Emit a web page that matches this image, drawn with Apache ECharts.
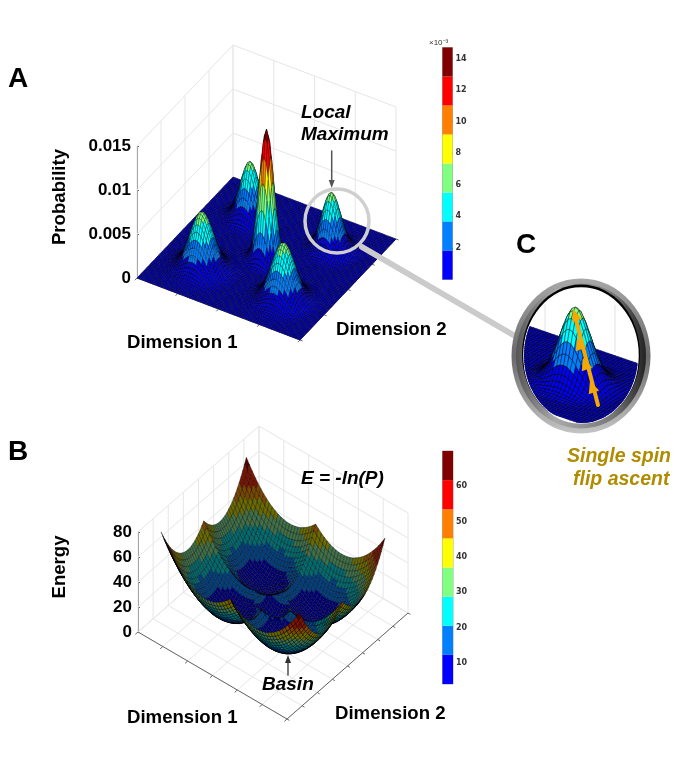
<!DOCTYPE html>
<html><head><meta charset="utf-8"><style>html,body{margin:0;padding:0;background:#fff}#c{width:678px;height:764px}</style>
<script src="https://cdn.jsdelivr.net/npm/echarts@6/dist/echarts.min.js"></script></head>
<body><div id="c"></div>
<script>
// ---------- values ----------
// Panel A: probability x 1e3. Mesh has 81 x 81 nodes. Peaks given as quadrant tables (offset from peak centre in mesh steps).
const backPeakQuadrant = [
 [6.40,6.20,5.65,4.83,3.88,2.93,2.08,1.38,.87,.51,.28,.15,.07],
 [6.20,6.01,5.48,4.68,3.76,2.84,2.02,1.34,.84,.49,.27,.14,.07],
 [5.65,5.48,4.98,4.26,3.42,2.58,1.84,1.22,.76,.45,.25,.13,.06],
 [4.83,4.68,4.26,3.65,2.93,2.21,1.57,1.04,.65,.38,.21,.11,.05],
 [3.88,3.76,3.42,2.93,2.35,1.78,1.26,.84,.53,.31,.17,.09,.04],
 [2.93,2.84,2.58,2.21,1.78,1.34,.95,.63,.40,.23,.13,.07,.03],
 [2.08,2.02,1.84,1.57,1.26,.95,.68,.45,.28,.17,.09,.05,.02],
 [1.38,1.34,1.22,1.04,.84,.63,.45,.30,.19,.11,.06,.03,.02],
 [.87,.84,.76,.65,.53,.40,.28,.19,.12,.07,.04,.02,.01],
 [.51,.49,.45,.38,.31,.23,.17,.11,.07,.04,.02,.01,.01],
 [.28,.27,.25,.21,.17,.13,.09,.06,.04,.02,.01,.01,0],
 [.15,.14,.13,.11,.09,.07,.05,.03,.02,.01,.01,0,0],
 [.07,.07,.06,.05,.04,.03,.02,.02,.01,.01,0,0,0]];
const frontPeakQuadrant = [
 [6.40,6.27,5.91,5.34,4.65,3.88,3.12,2.40,1.78,1.27,.87,.57,.36,.22,.13,.07,.04],
 [6.27,6.15,5.79,5.23,4.56,3.80,3.06,2.35,1.74,1.24,.85,.56,.35,.22,.13,.07,.04],
 [5.91,5.79,5.45,4.93,4.29,3.58,2.88,2.22,1.64,1.17,.80,.53,.33,.20,.12,.06,.04],
 [5.34,5.23,4.93,4.46,3.88,3.24,2.61,2.00,1.49,1.06,.73,.48,.30,.18,.11,.06,.03],
 [4.65,4.56,4.29,3.88,3.37,2.82,2.27,1.74,1.29,.92,.63,.41,.26,.16,.09,.05,.03],
 [3.88,3.80,3.58,3.24,2.82,2.36,1.89,1.46,1.08,.77,.53,.35,.22,.13,.08,.04,.02],
 [3.12,3.06,2.88,2.61,2.27,1.89,1.52,1.17,.87,.62,.42,.28,.18,.11,.06,.03,.02],
 [2.40,2.35,2.22,2.00,1.74,1.46,1.17,.90,.67,.48,.33,.21,.14,.08,.05,.03,.02],
 [1.78,1.74,1.64,1.49,1.29,1.08,.87,.67,.49,.35,.24,.16,.10,.06,.04,.02,.01],
 [1.27,1.24,1.17,1.06,.92,.77,.62,.48,.35,.25,.17,.11,.07,.04,.03,.01,.01],
 [.87,.85,.80,.73,.63,.53,.42,.33,.24,.17,.12,.08,.05,.03,.02,.01,.01],
 [.57,.56,.53,.48,.41,.35,.28,.21,.16,.11,.08,.05,.03,.02,.01,.01,0],
 [.36,.35,.33,.30,.26,.22,.18,.14,.10,.07,.05,.03,.02,.01,.01,0,0],
 [.22,.22,.20,.18,.16,.13,.11,.08,.06,.04,.03,.02,.01,.01,0,0,0],
 [.13,.13,.12,.11,.09,.08,.06,.05,.04,.03,.02,.01,.01,0,0,0,0],
 [.07,.07,.06,.06,.05,.04,.03,.03,.02,.01,.01,.01,0,0,0,0,0],
 [.04,.04,.04,.03,.03,.02,.02,.02,.01,.01,.01,0,0,0,0,0,0]];
const tallPeakQuadrant = [
 [14.7,13.91,11.77,8.92,6.04,3.66,1.98,.97,.43,.16,.06,.01,0],
 [13.91,13.16,11.13,8.44,5.71,3.46,1.87,.92,.41,.15,.06,.01,0],
 [11.77,11.13,9.43,7.14,4.84,2.93,1.59,.78,.34,.13,.05,.01,0],
 [8.92,8.44,7.14,5.41,3.67,2.22,1.20,.59,.26,.10,.04,.01,0],
 [6.04,5.71,4.84,3.67,2.48,1.50,.81,.40,.18,.07,.02,0,0],
 [3.66,3.46,2.93,2.22,1.50,.91,.49,.24,.11,.04,.01,0,0],
 [1.98,1.87,1.59,1.20,.81,.49,.27,.13,.06,.02,.01,0,0],
 [.97,.92,.78,.59,.40,.24,.13,.06,.03,.01,0,0,0],
 [.43,.41,.34,.26,.18,.11,.06,.03,.01,0,0,0,0],
 [.16,.15,.13,.10,.07,.04,.02,.01,0,0,0,0,0],
 [.06,.06,.05,.04,.02,.01,.01,0,0,0,0,0,0],
 [.01,.01,.01,.01,0,0,0,0,0,0,0,0,0],
 [0,0,0,0,0,0,0,0,0,0,0,0,0]];
const backPeakDim1 = [20,60];
const backPeakDim2 = [60,60];
const frontPeakDim1 = [20,60];
const frontPeakDim2 = [20,20];
const tallPeakDim1 = [40];
const tallPeakDim2 = [40];
// Panel B: energy, one quadrant of a 49 x 49 mesh (the four quadrants read alike).
const energyQuadrant = [
 [70,65.7,61.8,58.1,54.8,51.7,48.9,46.4,44.2,42.3,40.7,39.3,38.3,37.6,37.1,37,37.1,37.6,38.3,39.3,40.7,42.3,44.2,46.4,48.9],
 [65.7,61.4,57.5,53.8,50.5,47.4,44.6,42.1,39.9,38,36.4,35,34,33.3,32.8,32.7,32.8,33.3,34,35,36.4,38,39.9,42.1,44.6],
 [61.8,57.5,53.6,49.9,46.6,43.5,40.7,38.2,36,34.1,32.5,31.1,30.1,29.4,28.9,28.8,28.9,29.4,30.1,31.1,32.5,34.1,36,38.2,40.7],
 [58.1,53.8,49.9,46.2,42.9,39.8,37,34.5,32.3,30.4,28.8,27.4,26.4,25.7,25.2,25.1,25.2,25.7,26.4,27.4,28.8,30.4,32.3,34.5,37],
 [54.8,50.5,46.6,42.9,39.6,36.5,33.7,31.2,29,27.1,25.5,24.1,23.1,22.4,21.9,21.8,21.9,22.4,23.1,24.1,25.5,27.1,29,31.2,33.7],
 [51.7,47.4,43.5,39.8,36.5,33.4,30.6,28.1,25.9,24,22.4,21,20,19.3,18.8,18.7,18.8,19.3,20,21,22.4,24,25.9,28.1,30.6],
 [48.9,44.6,40.7,37,33.7,30.6,27.8,25.3,23.1,21.2,19.6,18.2,17.2,16.5,16,15.9,16,16.5,17.2,18.2,19.6,21.2,23.1,25.3,27.8],
 [46.4,42.1,38.2,34.5,31.2,28.1,25.3,22.8,20.6,18.7,17.1,15.7,14.7,14,13.5,13.4,13.5,14,14.7,15.7,17.1,18.7,20.6,22.8,25.3],
 [44.2,39.9,36,32.3,29,25.9,23.1,20.6,18.4,16.5,14.9,13.5,12.5,11.8,11.3,11.2,11.3,11.8,12.5,13.5,14.9,16.5,18.4,20.6,23.1],
 [42.3,38,34.1,30.4,27.1,24,21.2,18.7,16.5,14.6,13,11.6,10.6,9.9,9.4,9.3,9.4,9.9,10.6,11.6,13,14.6,16.5,18.7,21.2],
 [40.7,36.4,32.5,28.8,25.5,22.4,19.6,17.1,14.9,13,11.4,10,9,8.3,7.8,7.7,7.8,8.3,9,10,11.4,13,14.9,17.1,19.6],
 [39.3,35,31.1,27.4,24.1,21,18.2,15.7,13.5,11.6,10,8.6,7.6,6.9,6.4,6.3,6.4,6.9,7.6,8.6,10,11.6,13.5,15.7,18.2],
 [38.3,34,30.1,26.4,23.1,20,17.2,14.7,12.5,10.6,9,7.6,6.6,5.9,5.4,5.3,5.4,5.9,6.6,7.6,9,10.6,12.5,14.7,17.2],
 [37.6,33.3,29.4,25.7,22.4,19.3,16.5,14,11.8,9.9,8.3,6.9,5.9,5.2,4.7,4.6,4.7,5.2,5.9,6.9,8.3,9.9,11.8,14,16.5],
 [37.1,32.8,28.9,25.2,21.9,18.8,16,13.5,11.3,9.4,7.8,6.4,5.4,4.7,4.2,4.1,4.2,4.7,5.4,6.4,7.8,9.4,11.3,13.5,16],
 [37,32.7,28.8,25.1,21.8,18.7,15.9,13.4,11.2,9.3,7.7,6.3,5.3,4.6,4.1,4,4.1,4.6,5.3,6.3,7.7,9.3,11.2,13.4,15.9],
 [37.1,32.8,28.9,25.2,21.9,18.8,16,13.5,11.3,9.4,7.8,6.4,5.4,4.7,4.2,4.1,4.2,4.7,5.4,6.4,7.8,9.4,11.3,13.5,16],
 [37.6,33.3,29.4,25.7,22.4,19.3,16.5,14,11.8,9.9,8.3,6.9,5.9,5.2,4.7,4.6,4.7,5.2,5.9,6.9,8.3,9.9,11.8,14,16.5],
 [38.3,34,30.1,26.4,23.1,20,17.2,14.7,12.5,10.6,9,7.6,6.6,5.9,5.4,5.3,5.4,5.9,6.6,7.6,9,10.6,12.5,14.7,17.2],
 [39.3,35,31.1,27.4,24.1,21,18.2,15.7,13.5,11.6,10,8.6,7.6,6.9,6.4,6.3,6.4,6.9,7.6,8.6,10,11.6,13.5,14.4,14],
 [40.7,36.4,32.5,28.8,25.5,22.4,19.6,17.1,14.9,13,11.4,10,9,8.3,7.8,7.7,7.8,8.3,9,10,11.4,13,12,10.8,10.4],
 [42.3,38,34.1,30.4,27.1,24,21.2,18.7,16.5,14.6,13,11.6,10.6,9.9,9.4,9.3,9.4,9.9,10.6,11.6,13,11.2,9.2,8,7.6],
 [44.2,39.9,36,32.3,29,25.9,23.1,20.6,18.4,16.5,14.9,13.5,12.5,11.8,11.3,11.2,11.3,11.8,12.5,13.5,12,9.2,7.2,6,5.6],
 [46.4,42.1,38.2,34.5,31.2,28.1,25.3,22.8,20.6,18.7,17.1,15.7,14.7,14,13.5,13.4,13.5,14,14.7,14.4,10.8,8,6,4.8,4.4],
 [48.9,44.6,40.7,37,33.7,30.6,27.8,25.3,23.1,21.2,19.6,18.2,17.2,16.5,16,15.9,16,16.5,17.2,14,10.4,7.6,5.6,4.4,4]];
// Tick values
const probabilityTicks = [0,5,10,15];          // x 1e-3
const energyTicks = [0,20,40,60,80];
const dimTicksA1 = [0,.25,.5,.75,1];
const dimTicksA2 = [0,.25,.5,.75,1];
const dimTicksB1 = [0,1/6,2/6,3/6,4/6,5/6,1];
const dimTicksB2 = [0,1/8,2/8,3/8,4/8,5/8,6/8,7/8,1];
const colorbarEdgesA = [0,1.84,3.68,5.51,7.35,9.19,11.03,12.86,14.7];
const colorbarEdgesB = [4,12.25,20.5,28.75,37,45.25,53.5,61.75,70];
const colorbarTicksA = [2,4,6,8,10,12,14];
const colorbarTicksB = [10,20,30,40,50,60];
const bandColors = ['#0000ff','#0080ff','#00ffff','#80ff80','#ffff00','#ff8000','#ff0000','#800000'];
const bandColorsDim = ['#00007a','#003f80','#006c70','#3f7048','#6a6a00','#7a4600','#7a1400','#500000'];

// ---------- projections: (dim1, dim2, height) to the page plane ----------
const viewA = {ox:137,oy:278,ux:163,uy:62,vx:96,vy:-101,zs:8.8};
const viewB = {ox:138,oy:632,ux:149,uy:87,vx:121,vy:-106,zs:1.25};
const viewC = {ox:253,oy:391,ux:271,uy:93,vx:159,vy:-105,zs:11.7};
const spanB = {x0:.035,x1:.965,y0:.1475,y1:.8525};
const project = (v,x,y,z)=>[v.ox+x*v.ux+y*v.vx, v.oy+x*v.uy+y*v.vy-z*v.zs];

// ---------- meshes ----------
const meshA = Array.from({length:81},()=>new Array(81).fill(0));
function addPeak(q,c1,c2){ const R=q.length-1; for(let a=-R;a<=R;a++)for(let b=-R;b<=R;b++) meshA[c2+b][c1+a]+=q[Math.abs(a)][Math.abs(b)]; }
backPeakDim1.forEach((c,k)=>addPeak(backPeakQuadrant,c,backPeakDim2[k]));
frontPeakDim1.forEach((c,k)=>addPeak(frontPeakQuadrant,c,frontPeakDim2[k]));
tallPeakDim1.forEach((c,k)=>addPeak(tallPeakQuadrant,c,tallPeakDim2[k]));
const mirror = i=> i<=24? i : 48-i;
const meshB = Array.from({length:49},(_,r)=>Array.from({length:49},(_,c)=>energyQuadrant[mirror(r)][mirror(c)]));

function band(edges,val){ for(let k=0;k<8;k++) if(val<edges[k+1]) return k; return 7; }
// back-to-front cell list
function cells(i0,i1,j0,j1){ const out=[]; for(let j=j1-1;j>=j0;j--) for(let i=i0;i<i1;i++) out.push([i,j]); return out; }

function cellCorners(mesh,view,ix,iy,toX,toY){
  return [[ix,iy],[ix+1,iy],[ix+1,iy+1],[ix,iy+1]].map(([a,b])=>project(view,toX(a),toY(b),mesh[b][a]));
}
const toA = i=>i/80;
const toBx = i=>spanB.x0+(spanB.x1-spanB.x0)*i/48;
const toBy = i=>spanB.y0+(spanB.y1-spanB.y0)*i/48;
const meanOf=(m,ix,iy)=>(m[iy][ix]+m[iy][ix+1]+m[iy+1][ix+1]+m[iy+1][ix])/4;
const areaOf=p=>Math.abs((p[2][0]-p[0][0])*(p[3][1]-p[1][1])-(p[3][0]-p[1][0])*(p[2][1]-p[0][1]))/2;

// Faces seen nearly edge-on close up to solid black, as the dense mesh lines do in the reference.
function surfaceSeries(mesh,view,list,toX,toY,edges,colors,lwBase,lwOther,edgeOn,z){
  return {type:'custom',coordinateSystem:'cartesian2d',xAxisIndex:0,yAxisIndex:0,silent:true,clip:false,z,
    animation:false,progressive:0,data:list,
    renderItem(p,api){
      const ix=api.value(0), iy=api.value(1);
      const pts=cellCorners(mesh,view,ix,iy,toX,toY).map(q=>api.coord(q));
      const b=band(edges,meanOf(mesh,ix,iy));
      const fill=areaOf(pts)<edgeOn?'#000':colors[b];
      return {type:'polygon',shape:{points:pts},style:{fill,stroke:'#000',lineWidth:b===0?lwBase:lwOther}};
    }};
}

function boxLines(ticks1,ticks2,zTicks){
  const top=zTicks[zTicks.length-1], L=[];
  ticks2.forEach(v=>L.push([0,v,0,0,v,top]));        // left wall verticals
  ticks1.forEach(u=>L.push([u,1,0,u,1,top]));        // back wall verticals
  zTicks.forEach(t=>{L.push([0,0,t,0,1,t]);L.push([0,1,t,1,1,t]);});
  ticks1.forEach(u=>L.push([u,0,0,u,1,0]));          // floor
  ticks2.forEach(v=>L.push([0,v,0,1,v,0]));
  return L;
}
function axisLines(ticks1,ticks2){
  const L=[[0,0,0,1,0,0],[1,0,0,1,1,0]];
  ticks1.forEach(u=>L.push([u,0,0,u,-.022,0]));
  ticks2.forEach(v=>L.push([1,v,0,1.016,v,0]));
  return L;
}
function lineSeries(view,data,color,lw,z){
  return {type:'custom',coordinateSystem:'cartesian2d',xAxisIndex:0,yAxisIndex:0,silent:true,clip:false,z,animation:false,data,
    renderItem(p,api){
      const a=api.coord(project(view,api.value(0),api.value(1),api.value(2)));
      const b=api.coord(project(view,api.value(3),api.value(4),api.value(5)));
      return {type:'line',shape:{x1:a[0],y1:a[1],x2:b[0],y2:b[1]},style:{stroke:color,lineWidth:lw}};
    }};
}
function colorbarSeries(edges,idx){
  return bandColors.map((c,k)=>({type:'bar',stack:'cb'+idx,xAxisIndex:idx,yAxisIndex:idx,barWidth:'100%',silent:true,animation:false,
    itemStyle:{color:c},data:[edges[k+1]-(k?edges[k]:0)]}));
}

// Inset C: the right-hand peak of panel A, seen closer
const insetEllipse = {cx:581,cy:355.5,rx:57,ry:67.5};
const insetCells = cells(24,80,40,80);
const insetSeries = {type:'custom',coordinateSystem:'cartesian2d',xAxisIndex:0,yAxisIndex:0,silent:true,clip:false,z:20,animation:false,
  data:[[0]],
  renderItem(p,api){
    const children=insetCells.map(([ix,iy])=>{
      const pts=cellCorners(meshA,viewC,ix,iy,toA,toA).map(q=>api.coord(q));
      const b=band(colorbarEdgesA,meanOf(meshA,ix,iy));
      return {type:'polygon',shape:{points:pts},style:{fill:areaOf(pts)<2.5?'#000':bandColors[b],stroke:'#000',lineWidth:b===0?.6:.4}};
    });
    return {type:'group',children,clipPath:{type:'ellipse',shape:insetEllipse}};
  }};

const F='"Liberation Sans",Arial,sans-serif';
const bold=`bold 18.6px ${F}`;
const txt=(text,x,y,o={},rot)=>({type:'text',z:12,silent:true,x,y,rotation:rot||0,style:Object.assign({text,fill:'#000',font:bold,textAlign:'left',textVerticalAlign:'middle'},o)});
const ital=`italic bold 19px ${F}`;
const seg=(x1,y1,x2,y2,stroke,lineWidth,z=11)=>({type:'line',z,silent:true,shape:{x1,y1,x2,y2},style:{stroke,lineWidth,lineCap:'round'}});
const tri=(x,y,dx,dy,w,l,fill,z)=>{ const n=Math.hypot(dx,dy),ax=dx/n,ay=dy/n;
  return {type:'polygon',z,silent:true,shape:{points:[[x,y],[x-ax*l-ay*w,y-ay*l+ax*w],[x-ax*l+ay*w,y-ay*l-ax*w]]},style:{fill}};};

const graphics=[
  txt('A',8,79,{font:`bold 28px ${F}`}),
  txt('B',8,452,{font:`bold 28px ${F}`}),
  txt('C',516,245,{font:`bold 28px ${F}`}),
  txt('Probability',60,197,{textAlign:'center'},Math.PI/2),
  txt('Energy',60,567,{textAlign:'center'},Math.PI/2),
  txt('Dimension 1',127,343),
  txt('Dimension 2',336,330),
  txt('Dimension 1',127,718),
  txt('Dimension 2',335,714),
  txt('Local',301,113,{font:ital}),
  txt('Maximum',301,135,{font:ital}),
  txt('E = -ln(P)',301,479,{font:ital}),
  txt('Basin',262,685,{font:ital}),
  txt('Single spin',567,457,{font:`italic bold 19.5px ${F}`,fill:'#b08c00'}),
  txt('flip ascent',573,480,{font:`italic bold 19.5px ${F}`,fill:'#b08c00'}),
  {type:'text',z:12,silent:true,x:429,y:43,style:{text:'×10⁻³',fill:'#333',font:`8px ${F}`,textVerticalAlign:'middle'}},
  seg(331.7,151,331.7,183,'#555',1.5),
  tri(331.7,188,0,1,3,8,'#555',11),
  seg(288,675,288,660,'#333',1.3),
  tri(288,655,0,-1,3,8,'#333',11),
  {type:'circle',z:11,silent:true,shape:{cx:337,cy:221,r:32},style:{fill:null,stroke:'#cfcfcf',lineWidth:3.5}},
  seg(362,247,515,336,'#cbcbcb',6),
  // inset frame
  {type:'ellipse',z:15,silent:true,shape:{cx:581,cy:356,rx:69.5,ry:77.5},style:{fill:{type:'linear',x:0,y:0,x2:0,y2:1,colorStops:[{offset:0,color:'#a8a8a8'},{offset:.5,color:'#6a6a6a'},{offset:1,color:'#c4c4c4'}]}}},
  {type:'ellipse',z:15,silent:true,shape:{cx:581,cy:356,rx:65,ry:72.5},style:{fill:{type:'linear',x:0,y:0,x2:1,y2:0,colorStops:[{offset:0,color:'#555'},{offset:.3,color:'#aaa'},{offset:.75,color:'#777'},{offset:1,color:'#222'}]}}},
  {type:'ellipse',z:15,silent:true,shape:{cx:581,cy:354,rx:59,ry:69.5},style:{fill:'#000'}},
  {type:'ellipse',z:15,silent:true,shape:insetEllipse,style:{fill:'#fff',stroke:'#fff',lineWidth:1.5}},
  seg(545,305,545,340,'#e2e2e2',1,16),
  seg(615,305,615,352,'#e2e2e2',1,16),
  // ascent arrow
  seg(598,405,575,316,'#f5a800',4,30),
  tri(590,381,-8,-23,5.5,12,'#f5a800',30),
  tri(583,358,-8,-23,5.5,12,'#f5a800',30),
  tri(577,338,-8,-23,5.5,12,'#f5a800',30),
  tri(573,309,-8,-23,5,12,'#f5a800',30)
];

const zLabel={show:true,fontFamily:F,fontWeight:'bold',fontSize:17,color:'#000',margin:6};
const barLabel={fontFamily:'"DejaVu Sans"',fontSize:8,fontWeight:'bold',color:'#333',margin:3};
const option={
  animation:false,backgroundColor:'#fff',
  grid:[
    {left:0,top:0,width:678,height:764},
    {left:137,top:146,width:1,height:132},
    {left:138,top:532,width:1,height:100},
    {left:442.5,top:47.5,width:10,height:232,show:true,borderColor:'#555',borderWidth:.5,backgroundColor:'transparent'},
    {left:442.5,top:451,width:10.5,height:233,show:true,borderColor:'#555',borderWidth:.5,backgroundColor:'transparent'}
  ],
  xAxis:[
    {gridIndex:0,type:'value',min:0,max:678,show:false},
    {gridIndex:1,type:'value',show:false},
    {gridIndex:2,type:'value',show:false},
    {gridIndex:3,type:'category',data:['c'],show:false},
    {gridIndex:4,type:'category',data:['c'],show:false}
  ],
  yAxis:[
    {gridIndex:0,type:'value',min:0,max:764,inverse:true,show:false},
    {gridIndex:1,type:'value',min:0,max:15,interval:5,axisLine:{show:true,lineStyle:{color:'#666'}},axisTick:{show:true,inside:true,length:2,lineStyle:{color:'#666'}},splitLine:{show:false},
      axisLabel:Object.assign({},zLabel,{formatter:v=>v===0?'0':String(v/1000)})},
    {gridIndex:2,type:'value',min:0,max:80,interval:20,axisLine:{show:true,lineStyle:{color:'#666'}},axisTick:{show:true,inside:true,length:2,lineStyle:{color:'#666'}},splitLine:{show:false},axisLabel:zLabel},
    {gridIndex:3,type:'value',position:'right',min:0,max:14.7,splitLine:{show:false},axisLine:{show:false},
      axisTick:{show:true,inside:true,length:2,lineStyle:{color:'#222'},customValues:colorbarTicksA},axisLabel:Object.assign({},barLabel,{customValues:colorbarTicksA})},
    {gridIndex:4,type:'value',position:'right',min:4,max:70,splitLine:{show:false},axisLine:{show:false},
      axisTick:{show:true,inside:true,length:2,lineStyle:{color:'#222'},customValues:colorbarTicksB},axisLabel:Object.assign({},barLabel,{customValues:colorbarTicksB})}
  ],
  series:[
    lineSeries(viewA,boxLines(dimTicksA1,dimTicksA2,probabilityTicks),'#e6e6e6',1,1),
    lineSeries(viewA,axisLines(dimTicksA1,dimTicksA2),'#666',1,2),
    surfaceSeries(meshA,viewA,cells(0,80,0,80),toA,toA,colorbarEdgesA,bandColors,.5,.3,.9,3),
    lineSeries(viewB,boxLines(dimTicksB1,dimTicksB2,energyTicks),'#e6e6e6',1,1),
    lineSeries(viewB,axisLines(dimTicksB1,dimTicksB2),'#666',1,2),
    surfaceSeries(meshB,viewB,cells(0,48,0,48),toBx,toBy,colorbarEdgesB,bandColorsDim,.35,.35,2.5,3),
    ...colorbarSeries(colorbarEdgesA,3),
    ...colorbarSeries(colorbarEdgesB,4),
    insetSeries
  ],
  graphic:{elements:graphics}
};
echarts.init(document.getElementById('c'),null,{renderer:'canvas'}).setOption(option);
</script></body></html>
